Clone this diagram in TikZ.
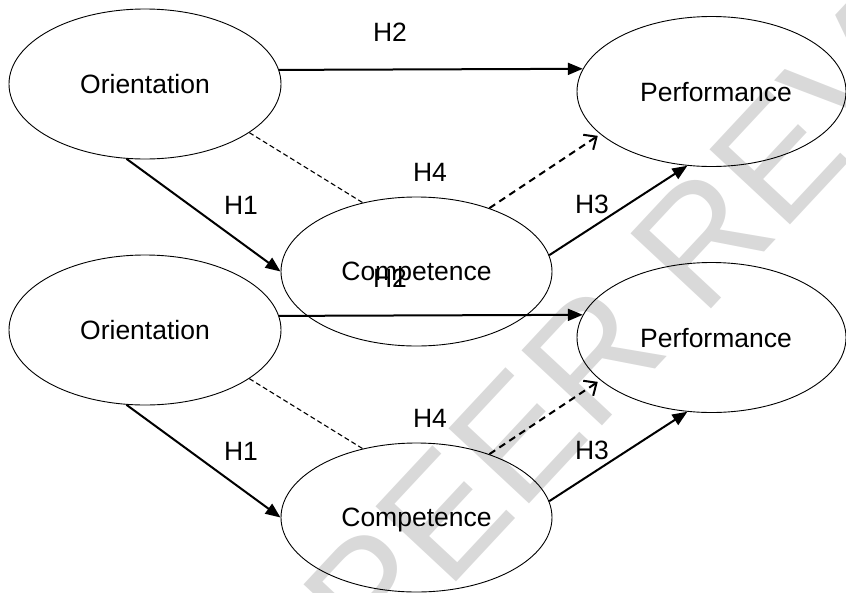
\documentclass[tikz,border=0pt]{standalone}
\usepackage{fontspec}
\setmainfont{Liberation Sans}
\usetikzlibrary{arrows.meta,shapes.geometric}
\begin{document}
\begin{tikzpicture}[x=1pt,y=-1pt,
  oval/.style={draw, ellipse, line width=0.9pt, inner sep=0pt, text depth=0pt, font=\fontsize{26.5}{30}\selectfont},
  orient/.style={oval, minimum width=272pt, minimum height=150pt},
  comp/.style={oval, minimum width=271pt, minimum height=149pt},
  perf/.style={oval, minimum width=269pt, minimum height=150pt},
  lbl/.style={font=\fontsize{26.5}{30}\selectfont, inner sep=0pt, text depth=0pt},
  solidarr/.style={line width=2pt, -{Triangle[length=15pt,width=12pt]}},
  thindash/.style={line width=1.1pt, dash pattern=on 5pt off 3pt},
  dasharr/.style={line width=2pt, dash pattern=on 7pt off 5pt, -{Straight Barb[length=10pt,width=18pt,line width=2pt]}, shorten >=3pt},
  wmark/.style={text=black!15, rotate=47, inner sep=0pt, anchor=base west, font=\fontsize{160}{160}\selectfont}
]
\useasboundingbox (0,0) rectangle (846,592);
\begin{scope}
  \clip (0,0) rectangle (846,592);
  \node[wmark] (wm) at (375,670) {PEER REVIEW};
\end{scope}
\foreach \dy/\s in {0/a,246/b} {
  \node[orient] (O\s) at (145,84+\dy) {Orientation};
  \node[comp] (C\s) at (416.5,271.5+\dy) {Competence};
  \node[perf] (P\s) at (711.5,91.5+\dy) {\hspace*{9pt}Performance};
  \draw[solidarr] (O\s.6) -- (P\s.170.5);
  \draw[solidarr] (O\s.256) -- (C\s.west);
  \draw[thindash] (O\s.335.4) -- (C\s.128);
  \draw[dasharr] (C\s.41.2) -- (P\s.201.3);
  \draw[solidarr] (C\s.7) -- (P\s.252);
  \node[lbl] (H2\s) at (390,32+\dy) {H2};
  \node[lbl] (H1\s) at (241,205+\dy) {H1};
  \node[lbl] (H4\s) at (430,172+\dy) {H4};
  \node[lbl] (H3\s) at (592,204+\dy) {H3};
}
\end{tikzpicture}
\end{document}
